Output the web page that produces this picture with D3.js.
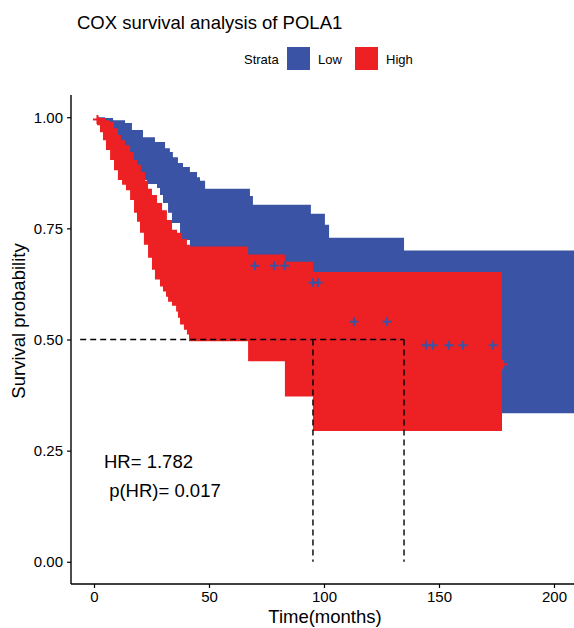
<!DOCTYPE html>
<html>
<head>
<meta charset="utf-8">
<script src="https://cdn.jsdelivr.net/npm/d3@7"></script>
<style>
  body { margin: 0; background: #fff; }
  text { font-family: "Liberation Sans", Arial, sans-serif; }
</style>
</head>
<body>
<svg id="km" width="574" height="628"></svg>
<script>
// strata
var groups = ["Low", "High"];
var colors = ["#3A53A4", "#ED2124"];

// confidence band of the Low group (step functions: time, survival)
var lowUpperTime = [0, 4.8, 8.3, 13.5, 16.5, 21.3, 26.5, 30.9, 33.0, 34.3, 36.5, 38.7, 41.7, 44.8, 46.1, 48.3, 67.8, 69.1, 94.3, 100.4, 102.2, 134.8];
var lowUpper = [1.0, 0.998, 0.993, 0.987, 0.971, 0.955, 0.944, 0.930, 0.922, 0.910, 0.897, 0.888, 0.877, 0.865, 0.857, 0.839, 0.823, 0.803, 0.783, 0.758, 0.729, 0.700];
var lowLowerTime = [0, 1.3, 2.6, 4.8, 7.0, 9.1, 11.3, 13.5, 15.7, 17.8, 20.0, 23.0, 27.4, 28.7, 30.0, 32.2, 33.9, 37.4, 41.7, 46.1, 54.8, 67.8, 85.2, 102.6, 124.3, 146.1, 177.4];
var lowLower = [1.0, 0.985, 0.975, 0.960, 0.937, 0.915, 0.897, 0.886, 0.877, 0.868, 0.859, 0.850, 0.841, 0.825, 0.807, 0.785, 0.762, 0.724, 0.690, 0.668, 0.623, 0.590, 0.545, 0.500, 0.433, 0.377, 0.334];
var lowEnd = 209;

// confidence band of the High group
var highUpperTime = [0, 2.6, 4.8, 7.0, 8.7, 10.4, 11.7, 13.5, 15.7, 17.4, 18.7, 20.4, 22.2, 23.5, 25.2, 27.4, 29.6, 31.7, 33.9, 36.1, 38.3, 40.4, 41.7, 67.0, 83.0, 95.2];
var highUpper = [1.0, 0.998, 0.993, 0.989, 0.975, 0.960, 0.948, 0.937, 0.922, 0.904, 0.893, 0.877, 0.857, 0.839, 0.825, 0.807, 0.791, 0.769, 0.747, 0.740, 0.726, 0.713, 0.709, 0.691, 0.675, 0.652];
var highLowerTime = [0, 1.3, 2.6, 3.9, 5.2, 7.0, 8.7, 10.4, 12.2, 13.9, 15.7, 17.4, 18.7, 20.0, 21.7, 23.5, 25.2, 26.5, 28.7, 30.0, 31.3, 32.2, 33.9, 35.7, 36.5, 37.4, 39.1, 40.4, 41.3, 67.0, 83.0, 95.2];
var highLower = [1.0, 0.982, 0.966, 0.948, 0.926, 0.904, 0.881, 0.859, 0.848, 0.836, 0.814, 0.785, 0.765, 0.740, 0.713, 0.684, 0.657, 0.635, 0.619, 0.608, 0.596, 0.585, 0.576, 0.563, 0.549, 0.534, 0.522, 0.511, 0.496, 0.451, 0.372, 0.294];
var highEnd = 177.4;

// censored observations
var lowCensorTime = [70.0, 78.3, 83.0, 95.2, 97.4, 113.0, 127.4, 144.3, 147.4, 154.3, 160.4, 173.5];
var lowCensorSurv = [0.666, 0.666, 0.666, 0.628, 0.628, 0.540, 0.540, 0.487, 0.487, 0.487, 0.487, 0.487];
var highCensorTime = [1.5, 177.8];
var highCensorSurv = [0.995, 0.444];

// median survival times (High, Low)
var medians = [95.2, 134.8];

var xTicks = [0, 50, 100, 150, 200];
var yTicks = [0, 0.25, 0.5, 0.75, 1.0];

var svg = d3.select("#km");

var x = d3.scaleLinear().domain([-10, 208.7]).range([71, 574]);
var y = d3.scaleLinear().domain([-0.05, 1.05]).range([584, 95]);

svg.append("defs").append("clipPath").attr("id", "panel")
  .append("rect").attr("x", 71).attr("y", 95).attr("width", 503).attr("height", 489);

function stepAt(times, vals, t) {
  var v = vals[0];
  for (var i = 0; i < times.length; i++) if (times[i] <= t) v = vals[i];
  return v;
}

function band(upT, up, loT, lo, end) {
  var ts = Array.from(new Set(upT.concat(loT))).sort((a, b) => a - b);
  var pts = ts.map((t) => ({ t: t, up: stepAt(upT, up, t), lo: stepAt(loT, lo, t) }));
  var last = pts[pts.length - 1];
  pts.push({ t: end, up: last.up, lo: last.lo });
  return pts;
}

var area = d3.area()
  .curve(d3.curveStepAfter)
  .x((d) => x(d.t))
  .y0((d) => y(d.lo))
  .y1((d) => y(d.up));

var plot = svg.append("g").attr("clip-path", "url(#panel)");

var bands = [
  band(lowUpperTime, lowUpper, lowLowerTime, lowLower, lowEnd),
  band(highUpperTime, highUpper, highLowerTime, highLower, highEnd)
];

plot.selectAll(".band")
  .data(bands)
  .enter()
  .append("path")
  .attr("class", "band")
  .attr("d", area)
  .attr("fill", (d, i) => colors[i]);

// median lines
var dash = "6,4";
plot.append("line")
  .attr("x1", x(-6)).attr("x2", x(d3.max(medians)))
  .attr("y1", y(0.5)).attr("y2", y(0.5))
  .attr("stroke", "#000").attr("stroke-width", 1.4).attr("stroke-dasharray", dash);
plot.selectAll(".med")
  .data(medians)
  .enter()
  .append("line")
  .attr("class", "med")
  .attr("x1", (d) => x(d)).attr("x2", (d) => x(d))
  .attr("y1", y(0.5)).attr("y2", y(0))
  .attr("stroke", "#000").attr("stroke-width", 1.4).attr("stroke-dasharray", dash);

// censor marks
var censors = [];
lowCensorTime.forEach((t, i) => censors.push({ t: t, s: lowCensorSurv[i], c: colors[0] }));
highCensorTime.forEach((t, i) => censors.push({ t: t, s: highCensorSurv[i], c: colors[1] }));

var cross = plot.selectAll(".censor")
  .data(censors)
  .enter()
  .append("g")
  .attr("class", "censor")
  .attr("transform", (d) => `translate(${x(d.t)},${y(d.s)})`);
cross.append("line").attr("x1", -4.5).attr("x2", 4.5).attr("y1", 0).attr("y2", 0)
  .attr("stroke", (d) => d.c).attr("stroke-width", 2);
cross.append("line").attr("x1", 0).attr("x2", 0).attr("y1", -4.5).attr("y2", 4.5)
  .attr("stroke", (d) => d.c).attr("stroke-width", 2);

// axes
var xAxis = svg.append("g")
  .attr("transform", "translate(0,584)")
  .call(d3.axisBottom(x).tickValues(xTicks).tickSize(4).tickPadding(3));
var yAxis = svg.append("g")
  .attr("transform", "translate(71,0)")
  .call(d3.axisLeft(y).tickValues(yTicks).tickFormat(d3.format(".2f")).tickSize(4).tickPadding(4));

[xAxis, yAxis].forEach((a) => {
  a.select(".domain").attr("stroke", "#000").attr("stroke-width", 1.4);
  a.selectAll(".tick line").attr("stroke", "#000").attr("stroke-width", 1.2);
  a.selectAll(".tick text")
    .attr("fill", "#000")
    .style("font-size", "15px")
    .style("font-family", '"Liberation Sans", Arial, sans-serif');
});
xAxis.select(".domain").attr("d", "M71,0H574");
yAxis.select(".domain").attr("d", "M0,95V584");

// axis titles
svg.append("text")
  .attr("x", 325).attr("y", 623)
  .attr("text-anchor", "middle")
  .style("font-size", "18.5px")
  .text("Time(months)");
svg.append("text")
  .attr("transform", "translate(25,321) rotate(-90)")
  .attr("text-anchor", "middle")
  .style("font-size", "18.5px")
  .text("Survival probability");

// HR annotation
svg.append("text").attr("x", 104).attr("y", 468).style("font-size", "18.5px").text("HR= 1.782");
svg.append("text").attr("x", 104).attr("y", 497).style("font-size", "18.5px").text(" p(HR)= 0.017")
  .attr("xml:space", "preserve").style("white-space", "pre");

// title
svg.append("text")
  .attr("x", 77).attr("y", 29)
  .style("font-size", "18.5px")
  .text("COX survival analysis of POLA1");

// legend
var legend = svg.append("g").attr("transform", "translate(244,47)");
legend.append("text").attr("x", 0).attr("y", 17).style("font-size", "13px").text("Strata");
var item = legend.selectAll(".legend-item")
  .data(groups)
  .enter()
  .append("g")
  .attr("class", "legend-item")
  .attr("transform", (d, i) => `translate(${43 + i * 68},0)`);
item.append("rect").attr("width", 23).attr("height", 23).attr("fill", (d, i) => colors[i]);
item.append("text").attr("x", 31).attr("y", 17).style("font-size", "13px").text((d) => d);
</script>
</body>
</html>
